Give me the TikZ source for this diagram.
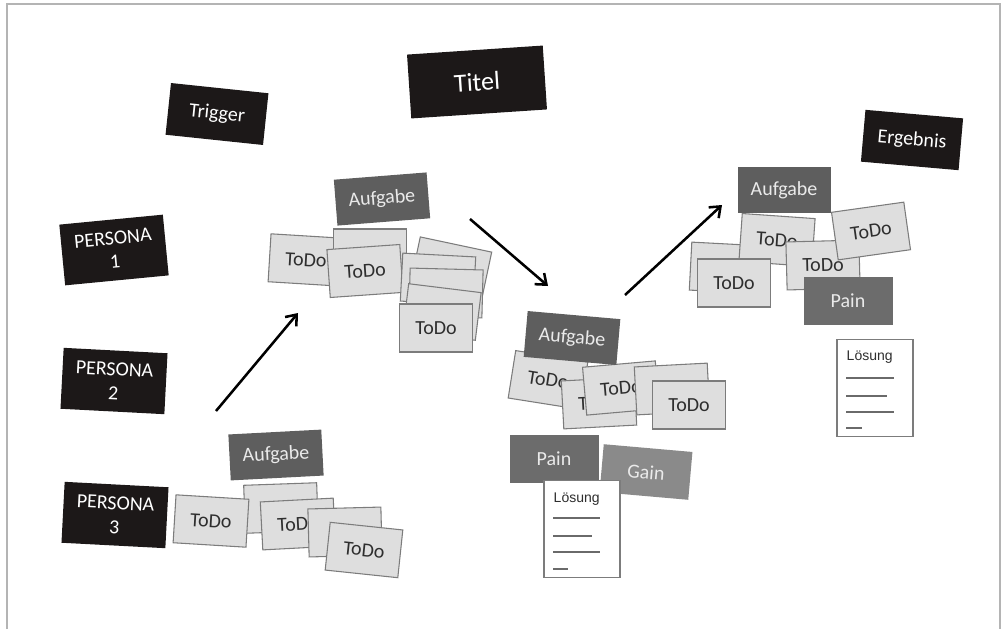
\documentclass[tikz,border=0pt]{standalone}
\usepackage{fontspec}
\setmainfont{Carlito}
\newfontfamily\docfont{Liberation Sans}
\usetikzlibrary{arrows.meta,calc}
\definecolor{cardblack}{HTML}{1C1818}
\definecolor{taskgray}{HTML}{5E5E5E}
\definecolor{paingray}{HTML}{6C6C6C}
\definecolor{gaingray}{HTML}{8A8A8A}
\definecolor{todofill}{HTML}{DEDEDE}
\definecolor{todoborder}{HTML}{7C7C7C}
\definecolor{todotext}{HTML}{2E2E2E}
\definecolor{lighttext}{HTML}{EAEAEA}
\definecolor{framegray}{HTML}{B4B4B4}
\definecolor{docline}{HTML}{6A6A6A}
\tikzset{
  card/.style={inner sep=0pt, outer sep=0pt, align=center,
    font=\fontsize{15}{18}\selectfont},
  blackcard/.style={card, fill=cardblack, text=white},
  smallblack/.style={blackcard, minimum width=73.5pt, minimum height=39pt},
  persona/.style={blackcard, minimum width=78pt, minimum height=45.75pt},
  titlecard/.style={blackcard, minimum width=102pt, minimum height=48pt,
    font=\fontsize{19.5}{22}\selectfont},
  taskcard/.style={card, fill=taskgray, text=lighttext,
    minimum width=69.75pt, minimum height=34.5pt},
  todocard/.style={card, fill=todofill, draw=todoborder, line width=0.8pt,
    text=todotext, minimum width=54.75pt, minimum height=36pt},
  paincard/.style={card, fill=paingray, text=lighttext,
    minimum width=66.75pt, minimum height=36pt},
  gaincard/.style={card, fill=gaingray, text=lighttext,
    minimum width=66.75pt, minimum height=36pt},
  doccard/.style={inner sep=0pt, fill=white, draw=todoborder, line width=0.8pt,
    minimum width=57pt, minimum height=72.75pt},
  doctitle/.style={anchor=north west, inner sep=0pt, text=todotext,
    font=\docfont\fontsize{10.5}{12}\selectfont},
  docrule/.style={draw=docline, line width=1pt},
  flowarrow/.style={line width=1.9pt, -{Straight Barb[length=7pt,width=11pt]}}
}
\begin{document}
\begin{tikzpicture}[x=0.75pt,y=-0.75pt]
\useasboundingbox (0,0) rectangle (1002,629);
\draw[framegray, line width=1.2pt] (7,629) -- (7,4) -- (1000,4) -- (1000,629);

% black cards
\node[titlecard, rotate=3.8] (titel) at (477,82) {Titel};
\node[smallblack, rotate=-6] (trigger) at (217,114) {Trigger};
\node[smallblack, rotate=-5] (ergebnis) at (912,140) {Ergebnis};
\node[persona, rotate=5.5] (p1) at (114,250) {PERSONA\\1};
\node[persona, rotate=-3] (p2) at (114,381) {PERSONA\\2};
\node[persona, rotate=-3] (p3) at (115,515) {PERSONA\\3};

% cluster 1
\node[todocard, rotate=-3.5] (t1a) at (306,260) {ToDo};
\node[todocard] (t1b) at (370,253) {};
\node[todocard, rotate=4] (t1c) at (365,271) {ToDo};
\node[todocard, rotate=-12] (t1d) at (451,268) {};
\node[todocard, rotate=-3] (t1e) at (438,279) {};
\node[todocard, rotate=-1.5] (t1f) at (446,293) {};
\node[todocard, rotate=-7] (t1g) at (442,312) {};
\node[todocard] (t1h) at (436,328) {ToDo};
\node[taskcard, rotate=4.5] (a1) at (382,199) {Aufgabe};

% cluster 2
\node[todocard, rotate=-9] (t2a) at (548,380) {ToDo};
\node[todocard, rotate=3] (t2b) at (599,403) {ToDo};
\node[todocard, rotate=5] (t2c) at (621,388) {ToDo};
\node[todocard, rotate=3] (t2d) at (672,389) {};
\node[todocard] (t2e) at (689,405) {ToDo};
\node[taskcard, rotate=-5] (a2) at (572,338) {Aufgabe};
\node[paincard] (pain2) at (554,459) {Pain};
\node[gaincard, rotate=-5] (gain2) at (646,472) {Gain};
\node[doccard] (doc2) at (582,529) {};
\node[doctitle] (doc2t) at ($(doc2.north west)+(10,13)$) {Lösung};
\draw[docrule] ($(doc2.north west)+(10,38)$) -- ($(doc2.north west)+(57,38)$);
\draw[docrule] ($(doc2.north west)+(10,56)$) -- ($(doc2.north west)+(49,56)$);
\draw[docrule] ($(doc2.north west)+(10,72)$) -- ($(doc2.north west)+(57,72)$);
\draw[docrule] ($(doc2.north west)+(10,89)$) -- ($(doc2.north west)+(25,89)$);

% cluster 3
\node[todocard, rotate=-3] (t3a) at (727,268) {};
\node[todocard, rotate=-4] (t3c) at (777,240) {ToDo};
\node[todocard] (t3b) at (734,283) {ToDo};
\node[todocard, rotate=1.5] (t3d) at (823,265) {ToDo};
\node[todocard, rotate=8] (t3e) at (871,231) {ToDo};
\node[paincard] (pain3) at (848,301) {Pain};
\node[taskcard] (a3) at (784,190) {Aufgabe};
\node[doccard] (doc3) at (875,388) {};
\node[doctitle] (doc3t) at ($(doc3.north west)+(10,12)$) {Lösung};
\draw[docrule] ($(doc3.north west)+(10,39)$) -- ($(doc3.north west)+(58,39)$);
\draw[docrule] ($(doc3.north west)+(10,57)$) -- ($(doc3.north west)+(51,57)$);
\draw[docrule] ($(doc3.north west)+(10,73)$) -- ($(doc3.north west)+(58,73)$);
\draw[docrule] ($(doc3.north west)+(10,89)$) -- ($(doc3.north west)+(26,89)$);

% cluster 4
\node[todocard, rotate=2] (t4b) at (281,508) {};
\node[todocard, rotate=-3.5] (t4a) at (211,521) {ToDo};
\node[todocard, rotate=3] (t4c) at (298,524) {ToDo};
\node[todocard, rotate=1.5] (t4d) at (345,532) {};
\node[todocard, rotate=-6] (t4e) at (364,550) {ToDo};
\node[taskcard, rotate=3] (a4) at (276,455) {Aufgabe};

% arrows
\coordinate (ar1s) at (216,411);
\coordinate (ar1e) at (298,313);
\coordinate (ar2s) at (470,219);
\coordinate (ar2e) at (548,286);
\coordinate (ar3s) at (625,295);
\coordinate (ar3e) at (722,205);
\draw[flowarrow] (ar1s) -- (ar1e);
\draw[flowarrow] (ar2s) -- (ar2e);
\draw[flowarrow] (ar3s) -- (ar3e);
\end{tikzpicture}
\end{document}
